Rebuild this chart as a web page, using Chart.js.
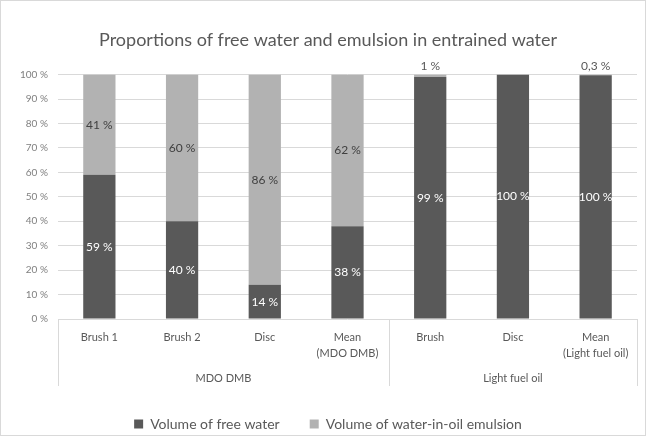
<!DOCTYPE html>
<html>
<head>
<meta charset="utf-8">
<script src="https://cdn.jsdelivr.net/npm/chart.js@4.4.0/dist/chart.umd.min.js"></script>
<style>
  html, body { margin: 0; padding: 0; background: #ffffff; }
  #wrap { width: 646px; height: 436px; position: relative; box-sizing: border-box; border: 1px solid #d9d9d9; }
  canvas { display: block; }
</style>
</head>
<body>
<div id="wrap"><canvas id="chart"></canvas></div>
<script>
// categories (two-level axis)
const categories = [
    ['Brush 1'], ['Brush 2'], ['Disc'], ['Mean', '(MDO DMB)'],
    ['Brush'], ['Disc'], ['Mean', '(Light fuel oil)']
];
const groups = ['MDO DMB', 'Light fuel oil'];
const groupSizes = [4, 3];

// series values, percent
const freeWater = [59, 40, 14, 38, 99, 100, 99.7];
const emulsion = [41, 60, 86, 62, 1, 0, 0.3];

const seriesNames = ['Volume of free water', 'Volume of water-in-oil emulsion'];
const yTicks = [0, 10, 20, 30, 40, 50, 60, 70, 80, 90, 100];

const FONT = 'Lato';

function fmtPct(v) {
    if (v < 1) return String(v).replace('.', ',') + ' %';
    return Math.round(v) + ' %';
}

// 막대 위 값 라벨
const valueLabels = {
    id: 'valueLabels',
    afterDatasetsDraw(chart) {
        const ctx = chart.ctx;
        ctx.save();
        ctx.font = '12px ' + FONT;
        ctx.textAlign = 'center';
        ctx.textBaseline = 'middle';
        chart.data.datasets.forEach((ds, di) => {
            const meta = chart.getDatasetMeta(di);
            meta.data.forEach((bar, i) => {
                const v = ds.data[i];
                if (!v) return;
                const h = Math.abs(bar.base - bar.y);
                if (h < 14) {
                    ctx.fillStyle = '#595959';
                    ctx.fillText(fmtPct(v), bar.x, bar.y - 8);
                } else {
                    ctx.fillStyle = di === 0 ? '#ffffff' : '#404040';
                    ctx.fillText(fmtPct(v), bar.x, (bar.y + bar.base) / 2);
                }
            });
        });
        ctx.restore();
    }
};

// 그룹 라벨과 구분선
const groupAxis = {
    id: 'groupAxis',
    afterDraw(chart) {
        const ctx = chart.ctx;
        const x = chart.scales.x;
        const area = chart.chartArea;
        const step = x.getPixelForValue(1) - x.getPixelForValue(0);
        ctx.save();
        ctx.strokeStyle = '#d9d9d9';
        ctx.lineWidth = 1;
        ctx.fillStyle = '#595959';
        ctx.font = '11px ' + FONT;
        ctx.textAlign = 'center';
        ctx.textBaseline = 'middle';
        let start = 0;
        const edges = [start];
        groups.forEach((g, gi) => {
            const end = start + groupSizes[gi];
            const left = x.getPixelForValue(start) - step / 2;
            const right = x.getPixelForValue(end - 1) + step / 2;
            ctx.fillText(g, (left + right) / 2, area.bottom + 59);
            edges.push(end);
            start = end;
        });
        edges.forEach(e => {
            const px = Math.round(x.getPixelForValue(e) - step / 2) + 0.5;
            ctx.beginPath();
            ctx.moveTo(px, area.bottom);
            ctx.lineTo(px, area.bottom + 67);
            ctx.stroke();
        });
        ctx.restore();
    }
};

const canvas = document.getElementById('chart');
canvas.width = 644;
canvas.height = 434;

new Chart(canvas, {
    type: 'bar',
    data: {
        labels: categories,
        datasets: [
            { label: seriesNames[0], data: freeWater, backgroundColor: '#595959' },
            { label: seriesNames[1], data: emulsion, backgroundColor: '#b2b2b2' }
        ]
    },
    options: {
        responsive: false,
        animation: false,
        devicePixelRatio: 1,
        layout: { padding: { left: 18, right: 8, top: 0, bottom: -6 } },
        datasets: { bar: { categoryPercentage: 1, barPercentage: 0.39 } },
        plugins: {
            title: {
                display: true,
                text: 'Proportions of free water and emulsion in entrained water',
                color: '#595959',
                font: { family: FONT, size: 18, weight: 'normal' },
                padding: { top: 28, bottom: 24 }
            },
            legend: {
                position: 'bottom',
                labels: {
                    color: '#595959',
                    font: { family: FONT, size: 14 },
                    boxWidth: 9,
                    boxHeight: 9,
                    padding: 30
                }
            },
            tooltip: { enabled: false }
        },
        scales: {
            x: {
                stacked: true,
                grid: { display: false },
                border: { display: false },
                ticks: {
                    color: '#595959',
                    font: { family: FONT, size: 11, lineHeight: 1.4 },
                    padding: 3,
                    maxRotation: 0,
                    autoSkip: false
                },
                afterFit(scale) { scale.height = 68; }
            },
            y: {
                stacked: true,
                min: 0,
                max: 100,
                afterBuildTicks(scale) { scale.ticks = yTicks.map(v => ({ value: v })); },
                grid: { color: '#d9d9d9', drawTicks: false },
                border: { display: false },
                ticks: {
                    color: '#7f7f7f',
                    font: { family: FONT, size: 10 },
                    padding: 10,
                    callback: v => v + ' %'
                },
                afterFit(scale) { scale.width = 39; }
            }
        }
    },
    plugins: [valueLabels, groupAxis]
});
</script>
</body>
</html>
